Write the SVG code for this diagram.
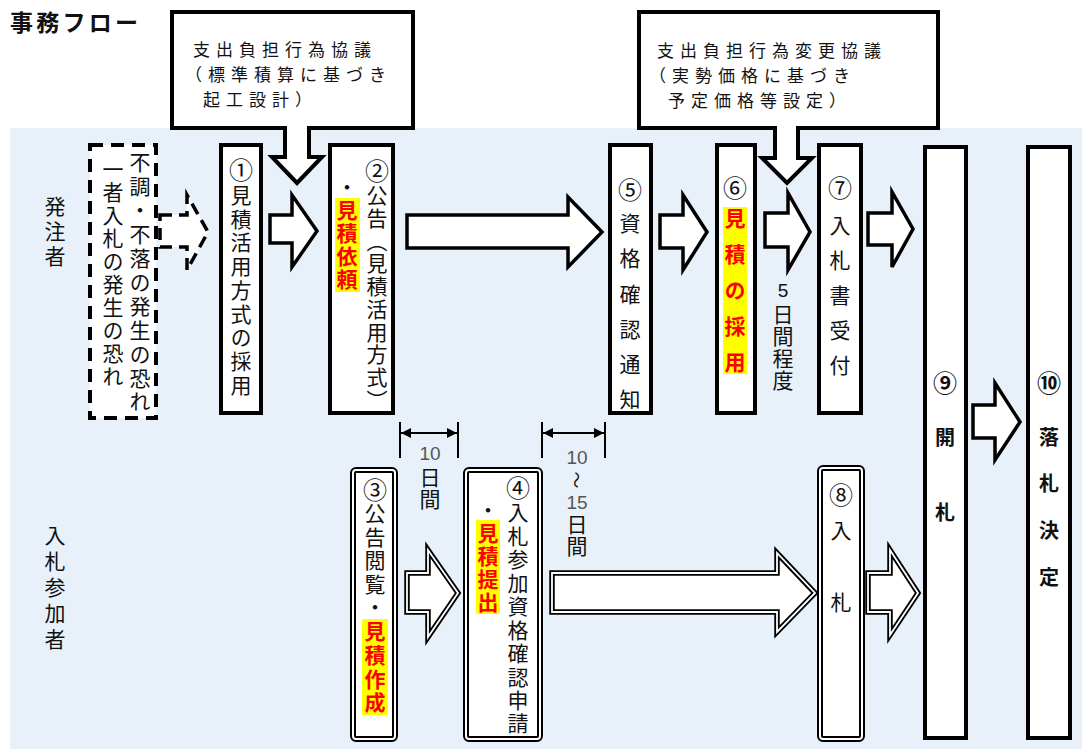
<svg xmlns="http://www.w3.org/2000/svg" width="1082" height="749" viewBox="0 0 1082 749">
<defs>
<style>
.t{font-family:'Noto Sans CJK JP','Noto Sans CJK SC',sans-serif;fill:#111;}
.v{writing-mode:vertical-rl;}
.n{font-family:'Liberation Sans',Arial,sans-serif;fill:#555;font-size:19px;text-anchor:middle;}
.box{fill:#fff;stroke:#000;stroke-width:4;}
.dash{fill:#fff;stroke:#000;stroke-width:4;stroke-dasharray:13 8;}
.dblo{fill:#fff;stroke:#000;stroke-width:6;}
.dbli{fill:none;stroke:#fff;stroke-width:2;}
.arr{fill:#fff;stroke:#000;stroke-width:3.5;stroke-linejoin:miter;}
.arrd{fill:#fff;stroke:#000;stroke-width:3.5;stroke-dasharray:12 7;}
.arro{fill:#fff;stroke:#000;stroke-width:5.5;stroke-linejoin:miter;}
.arri{fill:none;stroke:#fff;stroke-width:1.8;stroke-linejoin:miter;}
.red{fill:#ff0000;font-weight:bold;}
.hl{fill:#ffff00;}
.dim{stroke:#000;stroke-width:2;fill:none;}
.co{fill:#fff;stroke:#000;stroke-width:4;stroke-linejoin:miter;}
.ct{font-size:17px;letter-spacing:6px;}
</style>
<marker id="ah" viewBox="0 0 10 10" refX="10" refY="5" markerWidth="5" markerHeight="5" orient="auto-start-reverse">
<path d="M0,0 L10,5 L0,10 Z" fill="#000"/>
</marker>
</defs>

<rect x="10" y="128" width="1072" height="621" fill="#e8f1fa"/>

<text class="t" x="10" y="31" font-size="23" font-weight="bold" textLength="128" lengthAdjust="spacing">事務フロー</text>

<g id="callout1">
<path class="co" d="M172,12 H413 V128 H309 V157 H322 L297,183 L272,157 H285 V128 H172 Z"/>
<text class="t ct"><tspan x="193" y="56">支出負担行為協議</tspan><tspan x="185" y="81">（標準積算に基づき</tspan><tspan x="203" y="106">起工設計）</tspan></text>
</g>

<g id="callout2">
<path class="co" d="M639,12 H938 V128 H798 V158 H812 L787,183 L762,158 H775 V128 H639 Z"/>
<text class="t ct"><tspan x="657" y="57">支出負担行為変更協議</tspan><tspan x="649" y="82">（実勢価格に基づき</tspan><tspan x="668" y="107">予定価格等設定）</tspan></text>
</g>

<g id="lane-labels">
<text class="t v" x="55" y="196" font-size="21" letter-spacing="4">発注者</text>
<text class="t v" x="55" y="525" font-size="21" letter-spacing="5">入札参加者</text>
</g>

<g id="connectors">
<polygon class="arrd" points="160,215 187,215 187,195 208,232 187,270 187,247 160,247"/>
<polygon class="arr" points="270,215 292,215 292,195 317,231 292,267 292,243 270,243"/>
<polygon class="arr" points="407,215 568,215 568,197 602,232 568,267 568,248 407,248"/>
<polygon class="arr" points="660,215 683,215 683,195 707,232 683,270 683,248 660,248"/>
<polygon class="arr" points="765,213 788,213 788,193 810,232 788,270 788,247 765,247"/>
<polygon class="arr" points="868,213 892,213 892,192 913,229 892,267 892,245 868,245"/>
<polygon class="arr" points="973,405 995,405 995,383 1020,422 995,460 995,438 973,438"/>
<polygon class="arro" points="407,573 428,573 428,550 458,593 428,637 428,612 407,612"/>
<polygon class="arri" points="407,573 428,573 428,550 458,593 428,637 428,612 407,612"/>
<polygon class="arro" points="552,573 777,573 777,553 815,593 777,632 777,612 552,612"/>
<polygon class="arri" points="552,573 777,573 777,553 815,593 777,632 777,612 552,612"/>
<polygon class="arro" points="868,573 890,573 890,550 918,593 890,635 890,612 868,612"/>
<polygon class="arri" points="868,573 890,573 890,550 918,593 890,635 890,612 868,612"/>
<line class="dim" x1="400" y1="422" x2="400" y2="458"/>
<line class="dim" x1="458" y1="422" x2="458" y2="458"/>
<path class="dim" d="M401,433 H457" marker-start="url(#ah)" marker-end="url(#ah)"/>
<line class="dim" x1="542" y1="422" x2="542" y2="458"/>
<line class="dim" x1="605" y1="422" x2="605" y2="458"/>
<path class="dim" d="M543,433 H604" marker-start="url(#ah)" marker-end="url(#ah)"/>
<text class="n" x="430" y="460">10</text>
<text class="t v" x="430" y="467" font-size="21" letter-spacing="1">日間</text>
<text class="n" x="577" y="464">10</text>
<text class="t" x="577" y="480" font-size="17" text-anchor="middle" dominant-baseline="central" transform="rotate(90 577 480)">～</text>
<text class="n" x="577" y="509">15</text>
<text class="t v" x="577" y="514" font-size="21" letter-spacing="1">日間</text>
<text class="n" x="783" y="297" style="fill:#111">5</text>
<text class="t v" x="783" y="304" font-size="21" letter-spacing="1">日間程度</text>
</g>

<g id="node-trigger">
<rect class="dash" x="90" y="145" width="66" height="273"/>
<text class="t v" font-size="21"><tspan x="140" y="152" letter-spacing="2.9">不調・不落の発生の恐れ</tspan><tspan x="113" y="158.5" letter-spacing="2">一者入札の発生の恐れ</tspan></text>
</g>

<g id="node1">
<rect class="box" x="221" y="145" width="40" height="268"/>
<text class="t v" x="241" y="157.75" font-size="21" letter-spacing="2.75"><tspan font-size="24">①</tspan>見積活用方式の採用</text>
</g>

<g id="node2">
<rect class="box" x="330" y="145" width="63" height="268"/>
<rect class="hl" x="335" y="198" width="25" height="94"/>
<text class="t v" font-size="21"><tspan x="377" y="158.75" font-size="24" letter-spacing="1.75">②</tspan><tspan letter-spacing="1.75">公告（見積活用方式）</tspan><tspan x="347" y="177" letter-spacing="2">・</tspan><tspan class="red" letter-spacing="2">見積依頼</tspan></text>
</g>

<g id="node5">
<rect class="box" x="610" y="145" width="41" height="268"/>
<text class="t v" x="630" y="178" font-size="21" letter-spacing="14.3"><tspan font-size="24" letter-spacing="10.5">⑤</tspan>資格確認通知</text>
</g>

<g id="node6">
<rect class="box" x="717" y="145" width="38" height="268"/>
<rect class="hl" x="723" y="207" width="24" height="167"/>
<text class="t v" x="735" y="176" font-size="24">⑥</text>
<text class="t v red" x="735" y="207.5" font-size="21" letter-spacing="15">見積の採用</text>
</g>

<g id="node7">
<rect class="box" x="819" y="145" width="42" height="268"/>
<text class="t v" x="840" y="176" font-size="21" letter-spacing="14"><tspan font-size="24" letter-spacing="14.5">⑦</tspan>入札書受付</text>
</g>

<g id="node9">
<rect class="box" x="925" y="147" width="41" height="591"/>
<text class="t v" x="945" y="371" font-size="24" font-weight="bold">⑨</text>
<text class="t v" x="945" y="427" font-size="20" font-weight="bold" letter-spacing="55">開札</text>
</g>

<g id="node10">
<rect class="box" x="1028" y="147" width="42" height="591"/>
<text class="t v" x="1049" y="371" font-size="24" font-weight="bold">⑩</text>
<text class="t v" x="1049" y="427" font-size="20" font-weight="bold" letter-spacing="26.7">落札決定</text>
</g>

<g id="node3">
<rect class="dblo" x="353" y="470" width="42" height="269" rx="3"/>
<rect class="dbli" x="353" y="470" width="42" height="269" rx="3"/>
<rect class="hl" x="362" y="619" width="26" height="96"/>
<text class="t v" x="375" y="478" font-size="21" letter-spacing="2.6"><tspan font-size="24" letter-spacing="0.5">③</tspan>公告閲覧・<tspan class="red">見積作成</tspan></text>
</g>

<g id="node4">
<rect class="dblo" x="466" y="470" width="74" height="269" rx="3"/>
<rect class="dbli" x="466" y="470" width="74" height="269" rx="3"/>
<rect class="hl" x="476" y="520" width="24" height="94"/>
<text class="t v" font-size="21"><tspan x="518" y="476" font-size="24" letter-spacing="1.5">④</tspan><tspan letter-spacing="2.44">入札参加資格確認申請</tspan><tspan x="488" y="499.5" letter-spacing="2">・</tspan><tspan class="red" letter-spacing="2">見積提出</tspan></text>
</g>

<g id="node8">
<rect class="dblo" x="820" y="468" width="42" height="271" rx="3"/>
<rect class="dbli" x="820" y="468" width="42" height="271" rx="3"/>
<text class="t v" x="841" y="483" font-size="24">⑧</text>
<text class="t v" x="841" y="519.5" font-size="21" letter-spacing="51">入札</text>
</g>
</svg>
